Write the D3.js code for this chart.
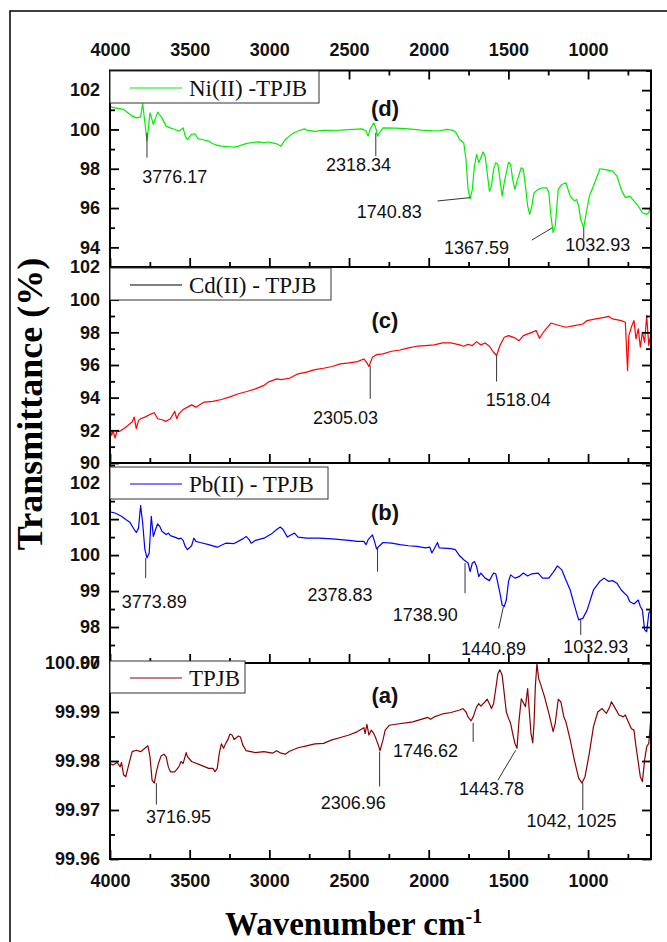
<!DOCTYPE html>
<html>
<head>
<meta charset="utf-8">
<script src="https://cdn.jsdelivr.net/npm/d3@7"></script>
<style>
  body { margin: 0; background: #fff; }
  svg { display: block; }
</style>
</head>
<body>
<div id="chart"></div>
<script>
// wavenumber ticks (cm-1)
const wnTicks = [4000, 3500, 3000, 2500, 2000, 1500, 1000];
const wnMinorTicks = [3750, 3250, 2750, 2250, 1750, 1250, 750];

// y ticks for each panel
const dTicks = [94, 96, 98, 100, 102];
const dMinor = [93, 95, 97, 99, 101, 103];
const cTicks = [90, 92, 94, 96, 98, 100, 102];
const cMinor = [91, 93, 95, 97, 99, 101];
const bTicks = [97, 98, 99, 100, 101, 102];
const bMinor = [97.5, 98.5, 99.5, 100.5, 101.5, 102.5];
const aTicks = [99.96, 99.97, 99.98, 99.99, 100.00];
const aMinor = [99.965, 99.975, 99.985, 99.995];

// spectra: [wavenumber, transmittance %]
const niTPJB = [[4000,101.15],[3968,101.10],[3915,101.02],[3888,100.85],[3861,100.68],[3835,100.59],[3808,100.64],[3795,101.32],[3781,100.34],[3768,99.41],[3749,100.85],[3728,100.25],[3701,100.88],[3674,100.59],[3648,100.17],[3621,100.08],[3594,100.0],[3568,99.92],[3541,100.08],[3528,99.66],[3514,99.49],[3488,99.75],[3466,99.78],[3448,99.53],[3421,99.49],[3381,99.41],[3354,99.27],[3327,99.19],[3301,99.15],[3247,99.12],[3221,99.10],[3194,99.15],[3141,99.29],[3087,99.36],[3061,99.37],[3034,99.32],[3007,99.36],[2981,99.32],[2954,99.27],[2927,99.15],[2900,99.49],[2874,99.66],[2847,99.83],[2820,99.92],[2780,100.03],[2767,99.97],[2714,99.90],[2660,99.95],[2554,99.97],[2447,100.02],[2420,100.03],[2393,99.92],[2380,99.66],[2367,100.03],[2345,100.34],[2332,100.08],[2321,99.66],[2308,99.83],[2287,100.08],[2207,100.07],[2127,100.03],[2046,99.97],[1940,99.92],[1886,100.0],[1846,99.95],[1828,99.83],[1806,99.49],[1780,99.32],[1766,98.47],[1753,96.95],[1740,96.47],[1726,96.95],[1713,98.14],[1699,98.73],[1686,98.31],[1673,98.56],[1659,98.85],[1646,98.64],[1633,97.80],[1619,96.86],[1606,97.12],[1593,97.97],[1579,98.31],[1566,98.22],[1553,97.46],[1539,96.61],[1526,97.29],[1499,98.34],[1486,98.22],[1473,97.46],[1459,96.95],[1446,97.37],[1419,98.05],[1406,97.97],[1393,97.12],[1379,96.10],[1366,95.68],[1353,96.10],[1339,96.78],[1313,96.95],[1286,97.03],[1259,97.03],[1246,96.78],[1233,95.59],[1219,94.75],[1206,95.08],[1187,96.95],[1165,97.20],[1139,97.29],[1112,96.61],[1086,96.36],[1072,96.44],[1059,96.10],[1046,95.42],[1027,95.0],[1011,95.76],[992,96.61],[966,97.12],[939,97.71],[926,98.0],[899,97.97],[846,97.88],[819,97.63],[792,96.95],[766,96.53],[739,96.61],[712,96.36],[685,96.10],[659,95.76],[632,95.68],[619,95.76],[605,96.19]];

const cdTPJB = [[4000,92.10],[3989,91.69],[3981,92.0],[3968,91.53],[3955,92.0],[3941,91.93],[3915,92.10],[3888,92.30],[3861,92.51],[3848,92.81],[3835,92.10],[3821,92.61],[3808,92.71],[3781,92.81],[3741,93.01],[3722,93.08],[3701,92.71],[3674,92.65],[3648,92.55],[3621,92.71],[3594,93.16],[3581,92.71],[3568,93.01],[3541,93.28],[3514,93.42],[3488,93.56],[3461,93.42],[3434,93.58],[3408,93.73],[3354,93.77],[3301,93.89],[3247,94.05],[3194,94.24],[3141,94.38],[3087,94.54],[3034,94.75],[3007,94.95],[2954,95.15],[2927,95.11],[2874,95.19],[2820,95.46],[2767,95.56],[2714,95.72],[2660,95.80],[2607,95.91],[2554,96.07],[2500,96.13],[2447,96.21],[2407,96.37],[2388,96.13],[2375,95.91],[2353,96.48],[2327,96.64],[2287,96.68],[2233,96.84],[2180,96.92],[2127,97.05],[2073,97.15],[2020,97.19],[1966,97.23],[1913,97.35],[1860,97.35],[1806,97.23],[1780,97.15],[1753,97.27],[1726,97.19],[1699,97.43],[1673,97.23],[1646,97.35],[1619,97.15],[1593,96.78],[1574,96.58],[1553,97.19],[1526,97.70],[1499,97.80],[1459,97.66],[1433,97.49],[1406,97.80],[1353,98.0],[1326,98.11],[1305,97.64],[1273,98.11],[1233,98.57],[1192,98.45],[1139,98.31],[1086,98.41],[1033,98.51],[1006,98.72],[952,98.82],[899,98.92],[872,98.98],[846,98.82],[792,98.72],[766,98.62],[752,95.66],[744,97.80],[725,98.41],[712,98.72],[699,97.60],[685,98.21],[672,97.09],[659,98.0],[645,97.39],[632,99.02],[619,97.19],[605,98.0]];

const pbTPJB = [[4000,101.20],[3968,101.17],[3928,101.08],[3901,100.99],[3875,100.91],[3848,100.71],[3835,100.63],[3821,100.75],[3808,101.38],[3795,100.89],[3781,100.15],[3768,99.92],[3754,100.06],[3741,101.08],[3728,100.52],[3714,100.71],[3701,100.87],[3688,100.80],[3674,100.66],[3648,100.57],[3634,100.61],[3621,100.54],[3594,100.50],[3568,100.45],[3554,100.47],[3541,100.41],[3528,100.24],[3514,100.15],[3488,100.26],[3474,100.47],[3461,100.38],[3434,100.35],[3381,100.29],[3327,100.22],[3274,100.33],[3221,100.32],[3167,100.45],[3146,100.52],[3127,100.43],[3114,100.33],[3087,100.41],[3034,100.47],[2981,100.61],[2954,100.71],[2932,100.78],[2914,100.71],[2887,100.50],[2860,100.57],[2842,100.61],[2820,100.50],[2767,100.47],[2687,100.47],[2607,100.45],[2554,100.43],[2500,100.41],[2447,100.38],[2407,100.38],[2393,100.29],[2380,100.43],[2353,100.56],[2340,100.38],[2327,100.17],[2313,100.24],[2287,100.35],[2233,100.33],[2180,100.29],[2127,100.26],[2073,100.24],[2020,100.20],[1993,100.22],[1980,100.06],[1966,100.17],[1945,100.35],[1934,100.20],[1860,100.18],[1833,100.15],[1806,99.98],[1780,99.87],[1753,99.78],[1740,99.54],[1726,99.78],[1713,99.82],[1699,99.68],[1686,99.40],[1673,99.50],[1646,99.36],[1619,99.29],[1593,99.50],[1579,99.48],[1566,99.22],[1553,98.94],[1539,98.61],[1526,98.57],[1513,98.75],[1499,99.27],[1486,99.45],[1459,99.36],[1433,99.40],[1406,99.50],[1379,99.42],[1353,99.48],[1313,99.50],[1286,99.36],[1246,99.36],[1219,99.52],[1192,99.70],[1165,99.59],[1139,99.31],[1112,99.03],[1086,98.61],[1059,98.20],[1033,98.24],[1006,98.47],[966,99.03],[926,99.27],[899,99.36],[872,99.27],[846,99.29],[819,99.22],[792,99.03],[752,98.85],[739,98.71],[712,98.64],[685,98.75],[672,98.57],[659,98.47],[645,97.92],[632,97.87],[619,98.38],[605,98.49]];

const tpjb = [[4000,99.9794],[3981,99.9792],[3955,99.9797],[3936,99.9788],[3928,99.9797],[3915,99.9772],[3901,99.9768],[3888,99.9785],[3875,99.9802],[3861,99.9819],[3835,99.9822],[3808,99.9819],[3781,99.9826],[3762,99.9831],[3749,99.9809],[3736,99.9761],[3722,99.9755],[3709,99.9778],[3696,99.9795],[3680,99.9810],[3661,99.9814],[3648,99.9809],[3634,99.9788],[3621,99.9778],[3594,99.9778],[3568,99.9788],[3554,99.9799],[3541,99.9795],[3522,99.9817],[3514,99.9809],[3488,99.9799],[3434,99.9792],[3381,99.9785],[3354,99.9785],[3341,99.9778],[3327,99.9785],[3314,99.9816],[3301,99.9835],[3287,99.9826],[3274,99.9836],[3261,99.9843],[3247,99.9855],[3234,99.9853],[3221,99.9844],[3194,99.9851],[3181,99.9849],[3167,99.9833],[3146,99.9821],[3087,99.9817],[3034,99.9819],[2981,99.9816],[2954,99.9821],[2927,99.9816],[2900,99.9814],[2874,99.9820],[2820,99.9827],[2767,99.9831],[2714,99.9835],[2660,99.9836],[2607,99.9843],[2554,99.9848],[2500,99.9853],[2447,99.9860],[2407,99.9868],[2399,99.9856],[2388,99.9875],[2375,99.9853],[2361,99.9863],[2348,99.9858],[2335,99.9849],[2321,99.9837],[2305,99.9821],[2287,99.9843],[2273,99.9863],[2247,99.9873],[2207,99.9875],[2100,99.9880],[2006,99.9889],[1988,99.9885],[1966,99.9890],[1913,99.9896],[1860,99.9899],[1806,99.9904],[1785,99.9907],[1766,99.9900],[1753,99.9890],[1734,99.9882],[1721,99.9890],[1699,99.9911],[1686,99.9917],[1673,99.9912],[1646,99.9921],[1633,99.9926],[1619,99.9917],[1606,99.9907],[1593,99.9917],[1579,99.9948],[1566,99.9978],[1553,99.9986],[1539,99.9975],[1526,99.9938],[1513,99.9900],[1499,99.9887],[1486,99.9877],[1473,99.9856],[1459,99.9836],[1446,99.9826],[1433,99.9883],[1419,99.9927],[1406,99.9919],[1393,99.9911],[1379,99.9948],[1371,99.9911],[1358,99.9856],[1347,99.9837],[1339,99.9877],[1331,99.9951],[1321,99.9999],[1310,99.9968],[1299,99.9958],[1273,99.9931],[1246,99.9897],[1219,99.9860],[1206,99.9877],[1187,99.9926],[1171,99.9921],[1152,99.9890],[1139,99.9880],[1112,99.9843],[1086,99.9802],[1059,99.9765],[1038,99.9755],[1019,99.9768],[992,99.9816],[966,99.9870],[939,99.9900],[912,99.9907],[885,99.9897],[866,99.9909],[853,99.9921],[832,99.9909],[806,99.9894],[779,99.9890],[766,99.9894],[752,99.9883],[728,99.9866],[712,99.9863],[699,99.9829],[672,99.9768],[659,99.9758],[645,99.9802],[632,99.9829],[619,99.9836],[605,99.9890]];

// peak labels: leader line from/to [wn, value], text at [wn, value]
const dPeaks = [
    { label: "3776.17", line: [[3768, 99.83], [3768, 98.56]], at: [3594, 97.29] },
    { label: "2318.34", line: [[2332, 99.83], [2332, 98.64]], at: [2441, 97.88] },
    { label: "1740.83", line: [[1945, 96.36], [1740, 96.53]], at: [2247, 95.51] },
    { label: "1367.59", line: [[1353, 94.37], [1224, 95.0]], at: [1700, 93.64] },
    { label: "1032.93", line: [[1027, 95.0], [1027, 94.41]], at: [939, 93.81] }
];
const cPeaks = [
    { label: "2305.03", line: [[2367, 95.97], [2367, 93.93]], at: [2522, 92.40] },
    { label: "1518.04", line: [[1574, 96.58], [1574, 94.99]], at: [1438, 93.52] }
];
const bPeaks = [
    { label: "3773.89", line: [[3776, 99.92], [3776, 99.36]], at: [3722, 98.52] },
    { label: "2378.83", line: [[2321, 100.2], [2321, 99.54]], at: [2556, 98.71] },
    { label: "1738.90", line: [[1772, 99.78], [1772, 98.94]], at: [2022, 98.18] },
    { label: "1440.89", line: [[1531, 98.57], [1561, 97.96]], at: [1593, 97.22] },
    { label: "1032.93", line: [[1046, 98.2], [1046, 97.78]], at: [952, 97.29] }
];
const aPeaks = [
    { label: "3716.95", line: [[3709, 99.9755], [3709, 99.9711]], at: [3570, 99.9673] },
    { label: "2306.96", line: [[2308, 99.9819], [2308, 99.9748]], at: [2473, 99.9702] },
    { label: "1746.62", line: [[1721, 99.9878], [1721, 99.9839]], at: [2020, 99.9809] },
    { label: "1443.78", line: [[1454, 99.9822], [1566, 99.9761]], at: [1606, 99.9731] },
    { label: "1042, 1025", line: [[1033, 99.9755], [1033, 99.9700]], at: [1104, 99.9665] }
];

const sans = "'Liberation Sans', Arial, sans-serif";
const serif = "'Liberation Serif', 'Times New Roman', serif";

const width = 667, height = 942;
const plotLeft = 110, plotRight = 651;

const svg = d3.select("#chart").append("svg")
    .attr("width", width)
    .attr("height", height);

svg.append("rect").attr("width", width).attr("height", height).attr("fill", "#fff");

// outer frame (runs off the right and bottom edges)
svg.append("rect")
    .attr("x", 10).attr("y", 11)
    .attr("width", 700).attr("height", 1000)
    .attr("fill", "none").attr("stroke", "#000").attr("stroke-width", 1.5);

const x = d3.scaleLinear().domain([4000, 605]).range([plotLeft, plotRight]);

// panels top to bottom
const panels = [
    { key: "d", data: niTPJB, peaks: dPeaks, color: "#00ee00", legendColor: "#00ee00", legend: "Ni(II) -TPJB",
      top: 70.5, bottom: 267, domain: [93, 103], ticks: dTicks, minor: dMinor, fmt: d3.format("d"),
      legendY: 71, legendW: 209, tag: "(d)", tagY: 108 },
    { key: "c", data: cdTPJB, peaks: cPeaks, color: "#ff0000", legendColor: "#000", legend: "Cd(II) - TPJB",
      top: 267, bottom: 463, domain: [90, 102], ticks: cTicks, minor: cMinor, fmt: d3.format("d"),
      legendY: 268, legendW: 221, tag: "(c)", tagY: 320 },
    { key: "b", data: pbTPJB, peaks: bPeaks, color: "#0000ff", legendColor: "#0000ff", legend: "Pb(II) - TPJB",
      top: 463, bottom: 663, domain: [97, 102.56], ticks: bTicks, minor: bMinor, fmt: d3.format("d"),
      legendY: 467, legendW: 218, tag: "(b)", tagY: 512 },
    { key: "a", data: tpjb, peaks: aPeaks, color: "#8b0000", legendColor: "#8b0000", legend: "TPJB",
      top: 663, bottom: 859, domain: [99.96, 100.00], ticks: aTicks, minor: aMinor, fmt: d3.format(".2f"),
      legendY: 661, legendW: 135, tag: "(a)", tagY: 695 }
];

function styleAxis(g, withText) {
    g.select(".domain").remove();
    g.selectAll("line").attr("stroke", "#000").attr("stroke-width", 1.8);
    g.attr("font-family", sans).attr("font-size", 18).attr("font-weight", "bold");
    g.selectAll("text").attr("fill", "#111");
    if (!withText) g.selectAll("text").remove();
}

panels.forEach((p, i) => {
    const y = d3.scaleLinear().domain(p.domain).range([p.bottom, p.top]);
    const g = svg.append("g").attr("class", "panel-" + p.key);

    g.append("clipPath").attr("id", "clip-" + p.key)
        .append("rect")
        .attr("x", plotLeft).attr("y", p.top)
        .attr("width", plotRight - plotLeft).attr("height", p.bottom - p.top);

    // spectrum
    const line = d3.line().x(d => x(d[0])).y(d => y(d[1]));
    g.append("path")
        .datum(p.data)
        .attr("clip-path", `url(#clip-${p.key})`)
        .attr("fill", "none")
        .attr("stroke", p.color)
        .attr("stroke-width", 1.2)
        .attr("stroke-linejoin", "round")
        .attr("d", line);

    // left axis
    g.append("g").attr("transform", `translate(${plotLeft},0)`)
        .call(d3.axisLeft(y).tickValues(p.ticks).tickFormat(p.fmt).tickSizeInner(-9).tickSizeOuter(0).tickPadding(10))
        .call(s => styleAxis(s, true));
    g.append("g").attr("transform", `translate(${plotLeft},0)`)
        .call(d3.axisLeft(y).tickValues(p.minor).tickSizeInner(-5).tickSizeOuter(0))
        .call(s => styleAxis(s, false));

    // right axis
    g.append("g").attr("transform", `translate(${plotRight},0)`)
        .call(d3.axisRight(y).tickValues(p.ticks).tickSizeInner(-9).tickSizeOuter(0))
        .call(s => styleAxis(s, false));
    g.append("g").attr("transform", `translate(${plotRight},0)`)
        .call(d3.axisRight(y).tickValues(p.minor).tickSizeInner(-5).tickSizeOuter(0))
        .call(s => styleAxis(s, false));

    // bottom axis (labels only on the last panel)
    const last = i === panels.length - 1;
    g.append("g").attr("transform", `translate(0,${p.bottom})`)
        .call(d3.axisBottom(x).tickValues(wnTicks).tickFormat(d3.format("d")).tickSizeInner(-9).tickSizeOuter(0).tickPadding(15))
        .call(s => styleAxis(s, last));
    g.append("g").attr("transform", `translate(0,${p.bottom})`)
        .call(d3.axisBottom(x).tickValues(wnMinorTicks).tickSizeInner(-5).tickSizeOuter(0))
        .call(s => styleAxis(s, false));

    // top axis with labels on the first panel
    if (i === 0) {
        g.append("g").attr("transform", `translate(0,${p.top})`)
            .call(d3.axisTop(x).tickValues(wnTicks).tickFormat(d3.format("d")).tickSizeInner(-9).tickSizeOuter(0).tickPadding(15))
            .call(s => styleAxis(s, true));
        g.append("g").attr("transform", `translate(0,${p.top})`)
            .call(d3.axisTop(x).tickValues(wnMinorTicks).tickSizeInner(-5).tickSizeOuter(0))
            .call(s => styleAxis(s, false));
    }

    // panel box
    g.append("rect")
        .attr("x", plotLeft).attr("y", p.top)
        .attr("width", plotRight - plotLeft).attr("height", p.bottom - p.top)
        .attr("fill", "none").attr("stroke", "#000").attr("stroke-width", 2);

    // peak labels
    p.peaks.forEach(pk => {
        g.append("line")
            .attr("x1", x(pk.line[0][0])).attr("y1", y(pk.line[0][1]))
            .attr("x2", x(pk.line[1][0])).attr("y2", y(pk.line[1][1]))
            .attr("stroke", "#333").attr("stroke-width", 1);
        g.append("text")
            .attr("x", x(pk.at[0])).attr("y", y(pk.at[1]))
            .attr("text-anchor", "middle")
            .attr("font-family", sans).attr("font-size", 18)
            .attr("fill", "#111")
            .text(pk.label);
    });

    // legend box
    const lg = g.append("g").attr("transform", `translate(${plotLeft},${p.legendY})`);
    lg.append("rect")
        .attr("width", p.legendW).attr("height", 32)
        .attr("fill", "#fff").attr("stroke", "#333").attr("stroke-width", 1);
    lg.append("line")
        .attr("x1", 20).attr("x2", 72).attr("y1", 17).attr("y2", 17)
        .attr("stroke", p.legendColor).attr("stroke-width", 1.2);
    lg.append("text")
        .attr("x", 79).attr("y", 25)
        .attr("font-family", serif).attr("font-size", 23)
        .attr("fill", "#111")
        .text(p.legend);

    // panel tag
    g.append("text")
        .attr("x", 385).attr("y", p.tagY)
        .attr("dy", "0.35em")
        .attr("text-anchor", "middle")
        .attr("font-family", sans).attr("font-size", 22).attr("font-weight", "bold")
        .attr("fill", "#111")
        .text(p.tag);
});

// axis titles
svg.append("text")
    .attr("transform", "translate(42,404) rotate(-90)")
    .attr("text-anchor", "middle")
    .attr("font-family", serif).attr("font-size", 36).attr("font-weight", "bold")
    .text("Transmittance (%)");

const xt = svg.append("text")
    .attr("x", 225).attr("y", 935)
    .attr("font-family", serif).attr("font-size", 33).attr("font-weight", "bold");
xt.append("tspan").text("Wavenumber cm");
xt.append("tspan").attr("font-size", 20).attr("dy", -12).text("-1");
</script>
</body>
</html>
